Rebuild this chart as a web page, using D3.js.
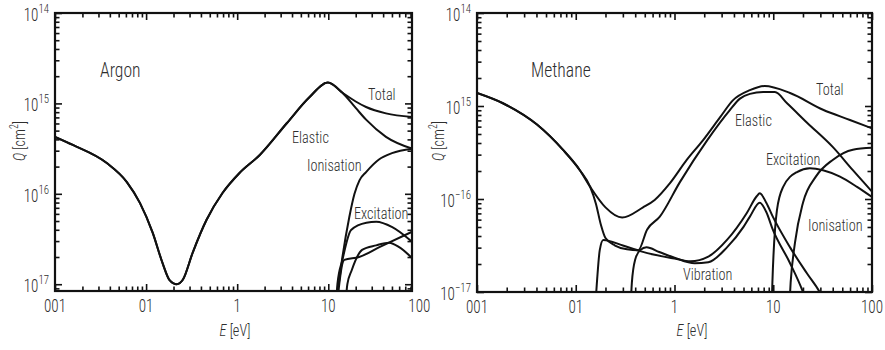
<!DOCTYPE html>
<html><head><meta charset="utf-8">
<script src="https://cdn.jsdelivr.net/npm/d3@7"></script>
<style>body{margin:0;background:#fff}</style>
</head><body>
<svg id="c" width="885" height="350"></svg>
<script>
// ---------- DATA ----------
const xMajor = [0.01, 0.1, 1, 10, 100];
const xTickLabels = ["001", "01", "1", "10", "100"];
const yMajor = [1e-14, 1e-15, 1e-16, 1e-17];
const argonYExp = ["14", "15", "16", "17"];
const methaneYExp = ["14", "15", "\u221216", "\u221217"];

// Argon
const argonElasticE = [0.01, 0.0157, 0.037, 0.0615, 0.0855, 0.118, 0.152, 0.18, 0.217, 0.253, 0.325, 0.46, 0.69, 1.06, 1.77, 3.5, 6.2, 9.9, 14.2, 20, 26, 43, 83];
const argonElasticQ = [4.27e-16, 3.47e-16, 2.19e-16, 1.35e-16, 7.94e-17, 3.72e-17, 1.70e-17, 1.12e-17, 1.0e-17, 1.12e-17, 2.24e-17, 5.13e-17, 1.02e-16, 1.70e-16, 2.69e-16, 6.03e-16, 1.17e-15, 1.70e-15, 1.32e-15, 8.91e-16, 6.61e-16, 4.27e-16, 3.16e-16];
const argonTotalE = [0.01, 0.0157, 0.037, 0.0615, 0.0855, 0.118, 0.152, 0.18, 0.217, 0.253, 0.325, 0.46, 0.69, 1.06, 1.77, 3.5, 6.2, 9.9, 14.2, 20, 26, 43, 83];
const argonTotalQ = [4.27e-16, 3.47e-16, 2.19e-16, 1.35e-16, 7.94e-17, 3.72e-17, 1.70e-17, 1.12e-17, 1.0e-17, 1.12e-17, 2.24e-17, 5.13e-17, 1.02e-16, 1.70e-16, 2.69e-16, 6.03e-16, 1.17e-15, 1.70e-15, 1.32e-15, 1.05e-15, 9.12e-16, 7.76e-16, 7.08e-16];
const argonIonE = [11.8, 13, 14.3, 17, 19.4, 22, 26, 36, 50, 83];
const argonIonQ = [7.0e-18, 1.0e-17, 2.0e-17, 5.5e-17, 1.0e-16, 1.41e-16, 1.74e-16, 2.40e-16, 2.82e-16, 3.16e-16];
const argonExc1E = [12.2, 12.6, 14.3, 17.8, 26.2, 33.6, 50.4, 83];
const argonExc1Q = [6.3e-18, 1.0e-17, 1.86e-17, 3.98e-17, 4.79e-17, 4.90e-17, 4.27e-17, 2.95e-17];
const argonExc2E = [12.6, 13.2, 15.0, 21.8, 36.4, 83];
const argonExc2Q = [6.3e-18, 1.0e-17, 1.86e-17, 2.0e-17, 2.57e-17, 3.80e-17];
const argonExc3E = [15.5, 16.2, 18, 23.5, 33.6, 46.6, 60, 83];
const argonExc3Q = [6.3e-18, 1.0e-17, 1.41e-17, 2.40e-17, 2.69e-17, 2.88e-17, 2.57e-17, 1.95e-17];

// Methane
const methTotalE = [0.01, 0.0183, 0.0405, 0.074, 0.11, 0.14, 0.2, 0.295, 0.48, 0.63, 0.9, 1.33, 1.94, 2.9, 3.9, 5.8, 8.2, 14.8, 31.9, 59.8, 100];
const methTotalQ = [1.38e-15, 1.07e-15, 6.31e-16, 3.39e-16, 2.04e-16, 1.35e-16, 8.13e-17, 6.31e-17, 8.13e-17, 9.77e-17, 1.48e-16, 2.63e-16, 4.27e-16, 7.59e-16, 1.15e-15, 1.48e-15, 1.64e-15, 1.38e-15, 9.12e-16, 7.08e-16, 5.75e-16];
const methElasticE = [0.01, 0.0183, 0.0405, 0.074, 0.11, 0.14, 0.16, 0.18, 0.2, 0.25, 0.33, 0.43, 0.527, 0.71, 1.13, 2.14, 3.6, 4.6, 5.8, 7.9, 10.4, 13.8, 22, 40, 64, 100];
const methElasticQ = [1.38e-15, 1.07e-15, 6.31e-16, 3.39e-16, 2.04e-16, 1.35e-16, 8.91e-17, 5.25e-17, 3.80e-17, 3.16e-17, 2.88e-17, 2.82e-17, 4.68e-17, 6.46e-17, 1.51e-16, 4.27e-16, 8.91e-16, 1.20e-15, 1.35e-15, 1.41e-15, 1.41e-15, 1.07e-15, 6.61e-16, 3.63e-16, 2.04e-16, 1.20e-16];
const methVib1E = [0.155, 0.165, 0.175, 0.19, 0.3, 0.45, 0.63, 1.0, 1.45, 2.2, 3.4, 5.4, 6.8, 7.3, 8.5, 9.9, 14.8, 22, 29.5, 40];
const methVib1Q = [5.01e-18, 1.41e-17, 2.82e-17, 3.63e-17, 3.16e-17, 2.75e-17, 2.51e-17, 2.29e-17, 2.14e-17, 2.40e-17, 3.63e-17, 7.08e-17, 1.07e-16, 1.15e-16, 9.12e-17, 6.46e-17, 3.02e-17, 1.58e-17, 1.0e-17, 5.01e-18];
const methVib2E = [0.355, 0.37, 0.40, 0.45, 0.52, 0.7, 1.0, 1.6, 2.2, 3.4, 5.0, 5.8, 7.3, 8.5, 9.9, 14.8, 20, 25];
const methVib2Q = [5.01e-18, 1.26e-17, 2.24e-17, 2.82e-17, 3.02e-17, 2.69e-17, 2.34e-17, 2.04e-17, 2.09e-17, 3.02e-17, 5.01e-17, 6.46e-17, 9.12e-17, 7.24e-17, 4.68e-17, 2.04e-17, 1.0e-17, 5.01e-18];
const methExcE = [9.55, 9.8, 10.9, 12.6, 17.4, 23.5, 31.9, 47.4, 70.5, 100];
const methExcQ = [5.01e-18, 1.26e-17, 7.59e-17, 1.35e-16, 1.95e-16, 2.14e-16, 2.04e-16, 1.74e-16, 1.35e-16, 1.05e-16];
const methIonE = [14.3, 15, 16.6, 20, 27, 40, 64, 100];
const methIonQ = [5.01e-18, 1.26e-17, 3.39e-17, 9.12e-17, 1.74e-16, 2.63e-16, 3.39e-16, 3.55e-16];

// ---------- DRAWING ----------
const FONT = '"Liberation Sans Narrow", "Roboto Condensed", "DejaVu Sans Condensed", "Liberation Sans", sans-serif';
const TXT = "#2e2e2e";
const SX = 0.84; // horizontal compression to mimic the condensed face
const svg = d3.select("#c").style("font-family", FONT).style("font-weight", 300);

function txt(g, x, y, size, anchor) {
  return g.append("text")
    .attr("transform", `translate(${x},${y}) scale(${SX},1)`)
    .attr("text-anchor", anchor || "start")
    .attr("font-size", size).attr("fill", TXT);
}

function minorTicks(domain) {
  const out = [];
  const lo = Math.floor(Math.log10(domain[0])), hi = Math.ceil(Math.log10(domain[1]));
  for (let e = lo; e <= hi; e++) {
    for (let k = 2; k <= 9; k++) {
      const v = k * Math.pow(10, e);
      if (v >= domain[0] * 0.9999 && v <= domain[1] * 1.0001) out.push(v);
    }
  }
  return out;
}

function panel(cfg) {
  const g = svg.append("g");
  const x = d3.scaleLog().domain(cfg.xDomain).range([cfg.x0, cfg.x1]);
  const y = d3.scaleLog().domain(cfg.yDomain).range([cfg.y1, cfg.y0]);
  const clipId = "clip" + cfg.id;
  svg.append("clipPath").attr("id", clipId).append("rect")
    .attr("x", cfg.x0).attr("y", cfg.y0).attr("width", cfg.x1 - cfg.x0).attr("height", cfg.y1 - cfg.y0);

  // series
  const line = d3.line().x(d => x(d[0])).y(d => y(d[1])).curve(d3.curveMonotoneX);
  const lg = g.append("g").attr("clip-path", `url(#${clipId})`);
  cfg.series.forEach(s => {
    const pts = s.E.map((e, i) => [e, s.Q[i]]);
    lg.append("path").attr("d", line(pts)).attr("fill", "none")
      .attr("stroke", "#111").attr("stroke-width", 2).attr("stroke-linejoin", "round");
  });

  // axes (ticks inward on all four sides)
  const xMaj = xMajor.filter(v => v >= cfg.xDomain[0] * 0.9999 && v <= cfg.xDomain[1] * 1.0001);
  const xMin = minorTicks(cfg.xDomain);
  const yMaj = yMajor.filter(v => v >= cfg.yDomain[0] * 0.9999 && v <= cfg.yDomain[1] * 1.0001);
  const yMin = minorTicks(cfg.yDomain);
  const MAJ = 7, MIN = 4.5;
  const defs = [
    [d3.axisBottom(x), `translate(0,${cfg.y1})`, xMaj, -MAJ],
    [d3.axisBottom(x), `translate(0,${cfg.y1})`, xMin, -MIN],
    [d3.axisTop(x), `translate(0,${cfg.y0})`, xMaj, -MAJ],
    [d3.axisTop(x), `translate(0,${cfg.y0})`, xMin, -MIN],
    [d3.axisLeft(y), `translate(${cfg.x0},0)`, yMaj, -MAJ],
    [d3.axisLeft(y), `translate(${cfg.x0},0)`, yMin, -MIN],
    [d3.axisRight(y), `translate(${cfg.x1},0)`, yMaj, -MAJ],
    [d3.axisRight(y), `translate(${cfg.x1},0)`, yMin, -MIN]
  ];
  defs.forEach(([ax, tr, vals, size]) => {
    const a = g.append("g").attr("transform", tr)
      .call(ax.tickValues(vals).tickSize(size).tickFormat(""));
    a.select(".domain").remove();
    a.selectAll("line").attr("stroke", "#111").attr("stroke-width", 1.6);
  });
  g.append("rect").attr("x", cfg.x0).attr("y", cfg.y0)
    .attr("width", cfg.x1 - cfg.x0).attr("height", cfg.y1 - cfg.y0)
    .attr("fill", "none").attr("stroke", "#111").attr("stroke-width", 2.2);

  // x tick labels
  xMajor.forEach((v, i) => {
    txt(g, x(v), cfg.y1 + 21, 18, "middle").text(xTickLabels[i]);
  });
  // y tick labels
  yMajor.forEach((v, i) => {
    const t = txt(g, cfg.x0 - 6, y(v) + 8, 18, "end");
    t.append("tspan").text("10");
    t.append("tspan").attr("font-size", 13).attr("dy", -8).text(cfg.yExp[i]);
  });

  // axis titles
  const xt = txt(g, cfg.xTitleX, 336, 17, "middle");
  xt.append("tspan").attr("font-style", "italic").text("E");
  xt.append("tspan").text(" [eV]");
  const yt = g.append("text").attr("transform", `translate(${cfg.yTitleX},141) rotate(-90) scale(${SX},1)`)
    .attr("text-anchor", "middle").attr("font-size", 17).attr("fill", TXT);
  yt.append("tspan").attr("font-style", "italic").text("Q");
  yt.append("tspan").text(" [cm");
  yt.append("tspan").attr("font-size", 12).attr("dy", -7).text("2");
  yt.append("tspan").attr("dy", 7).text("]");

  // title & curve labels
  txt(g, cfg.title[1], cfg.title[2], 21).text(cfg.title[0]);
  cfg.labels.forEach(([s, lx, ly]) => { txt(g, lx, ly, 17).text(s); });
}

panel({
  id: "A", x0: 55, x1: 412, y0: 13, y1: 291,
  xDomain: [0.01, 83], yDomain: [Math.pow(10, -17.075), 1e-14],
  yExp: argonYExp, xTitleX: 235, yTitleX: 25,
  title: ["Argon", 100, 77],
  series: [
    { E: argonTotalE, Q: argonTotalQ }, { E: argonElasticE, Q: argonElasticQ },
    { E: argonIonE, Q: argonIonQ }, { E: argonExc1E, Q: argonExc1Q },
    { E: argonExc2E, Q: argonExc2Q }, { E: argonExc3E, Q: argonExc3Q }
  ],
  labels: [["Total", 368, 100], ["Elastic", 292, 143], ["Ionisation", 307, 171], ["Excitation", 354, 219]]
});

panel({
  id: "B", x0: 477, x1: 872, y0: 13, y1: 292,
  xDomain: [0.01, 100], yDomain: [1e-17, 1e-14],
  yExp: methaneYExp, xTitleX: 692, yTitleX: 444,
  title: ["Methane", 531, 77],
  series: [
    { E: methTotalE, Q: methTotalQ }, { E: methElasticE, Q: methElasticQ },
    { E: methVib1E, Q: methVib1Q }, { E: methVib2E, Q: methVib2Q },
    { E: methExcE, Q: methExcQ }, { E: methIonE, Q: methIonQ }
  ],
  labels: [["Total", 816, 95], ["Elastic", 735, 126], ["Excitation", 766, 165], ["Ionisation", 808, 231], ["Vibration", 683, 280]]
});
</script>
</body></html>
